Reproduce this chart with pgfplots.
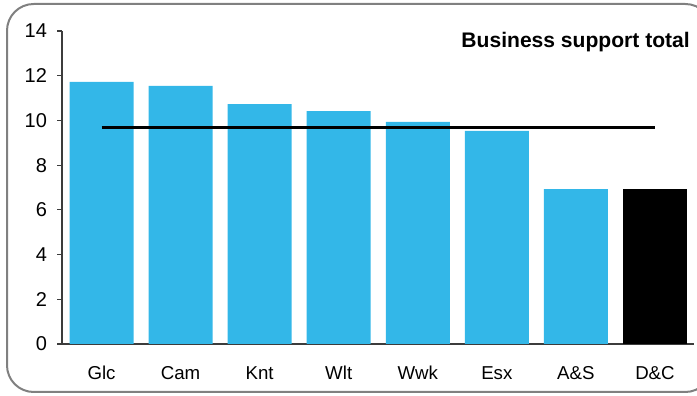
\documentclass[border=0pt]{standalone}
\usepackage{pgfplots}
\pgfplotsset{compat=1.18}
\usepackage{fontspec}
\setmainfont{Liberation Sans}
\definecolor{barblue}{RGB}{51,183,232}
\definecolor{framegray}{RGB}{128,128,128}
\definecolor{axisgray}{RGB}{60,60,60}
\begin{document}
\begin{tikzpicture}[x=0.75pt,y=0.75pt]
\path[use as bounding box] (0,0) rectangle (697,396);
\draw[framegray,line width=1.5pt,rounded corners=20pt] (7,4) rectangle (712,392);
\begin{axis}[
  at={(62pt*0.75,52pt*0.75)}, anchor=south west,
  scale only axis,
  width=632.5*0.75pt, height=313*0.75pt,
  xmin=-0.5, xmax=7.5, ymin=0, ymax=14,
  axis x line*=bottom, axis y line*=left,
  axis line style={axisgray, line width=0.8pt},
  x axis line style={-}, y axis line style={-},
  xtick={0,...,7},
  xticklabels={Glc,Cam,Knt,Wlt,Wwk,Esx,A\&S,D\&C},
  ytick={0,2,...,14},
  xtick style={draw=none},
  ytick style={axisgray, line width=0.8pt},
  tick align=outside,
  major tick length=5*0.75pt,
  xticklabel style={font=\fontsize{14}{16}\selectfont, text height=10pt, text depth=3pt, yshift=-9pt},
  yticklabel style={font=\fontsize{15}{17}\selectfont, xshift=-4pt},
  /pgf/number format/assume math mode=true,
  ybar, bar width=0.81, bar shift=0pt,
  clip=false,
]
\addplot[fill=barblue, draw=none] coordinates {(0,11.72) (1,11.54) (2,10.73) (3,10.42) (4,9.93) (5,9.53) (6,6.93)};
\addplot[fill=black, draw=none] coordinates {(7,6.93)};
\addplot[sharp plot, black, line width=2.1pt] coordinates {(0,9.70) (7,9.70)};
\end{axis}
\node[anchor=north east, font=\bfseries\fontsize{15.8}{18}\selectfont, inner sep=0pt] at (690,364) {Business support total};
\end{tikzpicture}
\end{document}
